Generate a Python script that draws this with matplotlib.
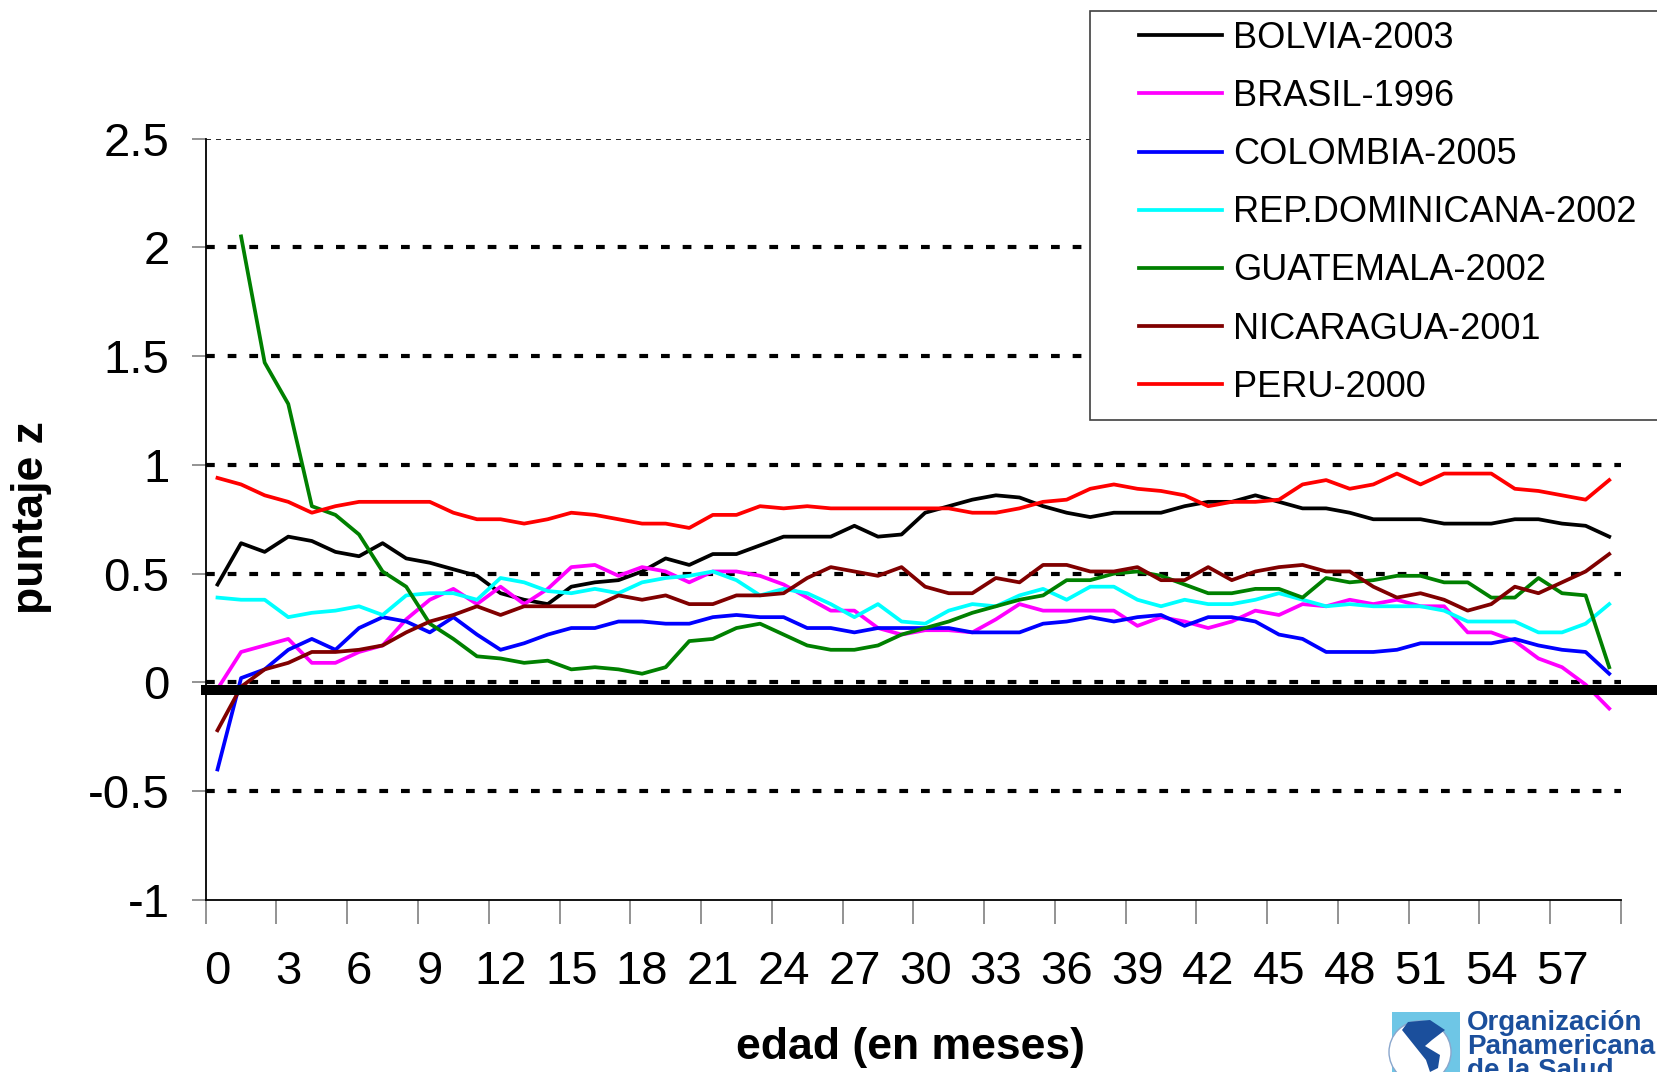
import numpy as np
import matplotlib
matplotlib.use("Agg")
import matplotlib.pyplot as plt
from matplotlib.lines import Line2D
from matplotlib.patches import Rectangle, Ellipse, Polygon

plt.rcParams['font.family'] = ['Liberation Sans', 'DejaVu Sans']
plt.rcParams['axes.unicode_minus'] = False

# edad en meses (categorias 0..59)
edad = list(range(60))

bolivia = [0.45, 0.64, 0.60, 0.67, 0.65, 0.60, 0.58, 0.64, 0.57, 0.55, 0.52, 0.49, 0.41, 0.38, 0.36,
           0.44, 0.46, 0.47, 0.51, 0.57, 0.54, 0.59, 0.59, 0.63, 0.67, 0.67, 0.67, 0.72, 0.67, 0.68,
           0.78, 0.81, 0.84, 0.86, 0.85, 0.81, 0.78, 0.76, 0.78, 0.78, 0.78, 0.81, 0.83, 0.83, 0.86,
           0.83, 0.80, 0.80, 0.78, 0.75, 0.75, 0.75, 0.73, 0.73, 0.73, 0.75, 0.75, 0.73, 0.72, 0.67]
brasil = [-0.03, 0.14, 0.17, 0.20, 0.09, 0.09, 0.14, 0.17, 0.29, 0.38, 0.43, 0.36, 0.44, 0.36, 0.43,
          0.53, 0.54, 0.49, 0.53, 0.51, 0.46, 0.51, 0.51, 0.49, 0.45, 0.39, 0.33, 0.33, 0.25, 0.22,
          0.24, 0.24, 0.23, 0.29, 0.36, 0.33, 0.33, 0.33, 0.33, 0.26, 0.30, 0.28, 0.25, 0.28, 0.33,
          0.31, 0.36, 0.35, 0.38, 0.36, 0.38, 0.35, 0.35, 0.23, 0.23, 0.19, 0.11, 0.07, -0.01, -0.12]
colombia = [-0.40, 0.02, 0.06, 0.15, 0.20, 0.15, 0.25, 0.30, 0.28, 0.23, 0.30, 0.22, 0.15, 0.18, 0.22,
            0.25, 0.25, 0.28, 0.28, 0.27, 0.27, 0.30, 0.31, 0.30, 0.30, 0.25, 0.25, 0.23, 0.25, 0.25,
            0.25, 0.25, 0.23, 0.23, 0.23, 0.27, 0.28, 0.30, 0.28, 0.30, 0.31, 0.26, 0.30, 0.30, 0.28,
            0.22, 0.20, 0.14, 0.14, 0.14, 0.15, 0.18, 0.18, 0.18, 0.18, 0.20, 0.17, 0.15, 0.14, 0.04]
rep_dominicana = [0.39, 0.38, 0.38, 0.30, 0.32, 0.33, 0.35, 0.31, 0.40, 0.41, 0.41, 0.38, 0.48, 0.46, 0.42,
                  0.41, 0.43, 0.41, 0.46, 0.48, 0.49, 0.51, 0.47, 0.40, 0.43, 0.41, 0.36, 0.30, 0.36, 0.28,
                  0.27, 0.33, 0.36, 0.35, 0.40, 0.43, 0.38, 0.44, 0.44, 0.38, 0.35, 0.38, 0.36, 0.36, 0.38,
                  0.41, 0.38, 0.35, 0.36, 0.35, 0.35, 0.35, 0.33, 0.28, 0.28, 0.28, 0.23, 0.23, 0.27, 0.36]
guatemala = [np.nan, 2.05, 1.47, 1.28, 0.81, 0.77, 0.68, 0.51, 0.44, 0.27, 0.20, 0.12, 0.11, 0.09, 0.10,
             0.06, 0.07, 0.06, 0.04, 0.07, 0.19, 0.20, 0.25, 0.27, 0.22, 0.17, 0.15, 0.15, 0.17, 0.22,
             0.25, 0.28, 0.32, 0.35, 0.38, 0.40, 0.47, 0.47, 0.50, 0.51, 0.49, 0.45, 0.41, 0.41, 0.43,
             0.43, 0.39, 0.48, 0.46, 0.47, 0.49, 0.49, 0.46, 0.46, 0.39, 0.39, 0.48, 0.41, 0.40, 0.07]
nicaragua = [-0.22, -0.02, 0.06, 0.09, 0.14, 0.14, 0.15, 0.17, 0.23, 0.28, 0.31, 0.35, 0.31, 0.35, 0.35,
             0.35, 0.35, 0.40, 0.38, 0.40, 0.36, 0.36, 0.40, 0.40, 0.41, 0.48, 0.53, 0.51, 0.49, 0.53,
             0.44, 0.41, 0.41, 0.48, 0.46, 0.54, 0.54, 0.51, 0.51, 0.53, 0.47, 0.47, 0.53, 0.47, 0.51,
             0.53, 0.54, 0.51, 0.51, 0.44, 0.39, 0.41, 0.38, 0.33, 0.36, 0.44, 0.41, 0.46, 0.51, 0.59]
peru = [0.94, 0.91, 0.86, 0.83, 0.78, 0.81, 0.83, 0.83, 0.83, 0.83, 0.78, 0.75, 0.75, 0.73, 0.75,
        0.78, 0.77, 0.75, 0.73, 0.73, 0.71, 0.77, 0.77, 0.81, 0.80, 0.81, 0.80, 0.80, 0.80, 0.80,
        0.80, 0.80, 0.78, 0.78, 0.80, 0.83, 0.84, 0.89, 0.91, 0.89, 0.88, 0.86, 0.81, 0.83, 0.83,
        0.84, 0.91, 0.93, 0.89, 0.91, 0.96, 0.91, 0.96, 0.96, 0.96, 0.89, 0.88, 0.86, 0.84, 0.93]

series = [
    ("BOLVIA-2003", bolivia, "#000000"),
    ("BRASIL-1996", brasil, "#FF00FF"),
    ("COLOMBIA-2005", colombia, "#0000FF"),
    ("REP.DOMINICANA-2002", rep_dominicana, "#00FFFF"),
    ("GUATEMALA-2002", guatemala, "#008000"),
    ("NICARAGUA-2001", nicaragua, "#800000"),
    ("PERU-2000", peru, "#FF0000"),
]

W, H = 1658, 1072


def fx(px):
    return px / W


def fy(py):
    return 1 - py / H


fig = plt.figure(figsize=(W / 100, H / 100), dpi=100)
ax = fig.add_axes([fx(205.7), fy(900), fx(1621) - fx(205.7), fy(138.5) - fy(900)])

# lineas de referencia punteadas
for lvl in [-0.5, 0, 0.5, 1, 1.5, 2]:
    ax.axhline(lvl, color='black', lw=3.0, ls=(0, (2.1, 3.1)), zorder=1.5)
ax.axhline(2.5, color='black', lw=1.2, ls=(0, (3, 3)), zorder=1.5)

for name, vals, col in series:
    ax.plot(edad, vals, color=col, lw=2.7, label=name, zorder=2)

# barra negra gruesa bajo el cero
ax.axhline(-0.037, xmin=-0.003, xmax=1.03, color='black', lw=7.2,
           solid_capstyle='butt', clip_on=False, zorder=3)

ax.set_xlim(-0.5, 59.5)
ax.set_ylim(-1, 2.5)
ax.set_yticks(np.arange(-1, 2.51, 0.5))
ax.set_yticklabels(['{:g}'.format(v) for v in np.arange(-1, 2.51, 0.5)])
ax.set_xticks(edad[::3])
ax.set_xticklabels([str(a) for a in edad[::3]])
ax.set_xticks(np.arange(-0.5, 60, 3), minor=True)

ax.tick_params(axis='y', length=10, width=1.2, color='#808080', pad=16, labelsize=34)
ax.tick_params(axis='x', which='major', length=0, pad=36, labelsize=34)
ax.tick_params(axis='x', which='minor', length=17, width=1.2, color='#808080')

for s in ['top', 'right']:
    ax.spines[s].set_visible(False)
for s in ['left', 'bottom']:
    ax.spines[s].set_linewidth(1.3)
    ax.spines[s].set_color('black')

fig.text(fx(911), fy(1047), "edad (en meses)", fontsize=32, fontweight='bold',
         ha='center', va='center')
fig.text(fx(32), fy(518), "puntaje z", fontsize=32, fontweight='bold',
         ha='center', va='center', rotation=90)

# leyenda con marco propio
fig.patches.append(Rectangle((fx(1090), fy(420)), fx(1700) - fx(1090), fy(11) - fy(420),
                             transform=fig.transFigure, facecolor='white',
                             edgecolor='#404040', lw=1.2, zorder=4))
handles = [Line2D([], [], color=c, lw=2.7) for _, _, c in series]
labels = [n for n, _, _ in series]
fig.legend(handles, labels, loc='upper left', bbox_to_anchor=(fx(1139), fy(21)),
           bbox_transform=fig.transFigure, frameon=False, fontsize=26,
           handlelength=2.3, handletextpad=0.3, labelspacing=0.64,
           borderpad=0, borderaxespad=0).set_zorder(5)

# logo OPS (aproximado)
fig.patches.append(Rectangle((fx(1392), fy(1072)), fx(1460) - fx(1392), fy(1012) - fy(1072),
                             transform=fig.transFigure, facecolor='#6EC6E6',
                             edgecolor='none', zorder=4))
fig.patches.append(Ellipse((fx(1420), fy(1052)), 62 / W, 62 / H, transform=fig.transFigure,
                           facecolor='white', edgecolor='#8aa6cc', lw=1, zorder=4))
americas = [(1408, 1022), (1430, 1020), (1445, 1030), (1432, 1040), (1425, 1046),
            (1440, 1055), (1438, 1068), (1430, 1072), (1426, 1060), (1418, 1050),
            (1410, 1040), (1402, 1030)]
fig.patches.append(Polygon([(fx(a), fy(b)) for a, b in americas], closed=True,
                           transform=fig.transFigure, facecolor='#1B4F9C',
                           edgecolor='none', zorder=4))
for i, t in enumerate(["Organización", "Panamericana", "de la Salud"]):
    fig.text(fx(1467), fy(1023 + 24 * i), t, fontsize=20, fontweight='bold',
             color='#1B4F9C', ha='left', va='center')

fig.savefig("out.png", dpi=100)
